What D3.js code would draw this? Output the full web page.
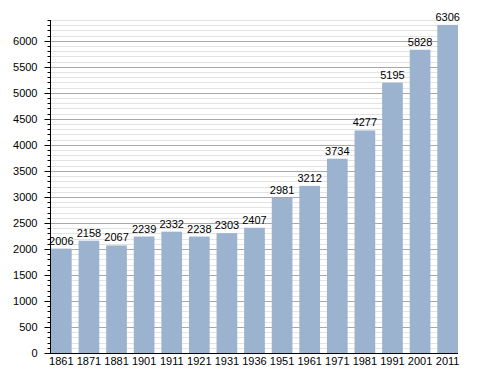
<!DOCTYPE html>
<html>
<head>
<meta charset="utf-8">
<script src="https://cdn.jsdelivr.net/npm/d3@7"></script>
<style>
  body { margin: 0; background: #fff; }
  text { font-family: "Liberation Sans", Arial, sans-serif; font-size: 11px; fill: #000; }
</style>
</head>
<body>
<script>
let years = ["1861", "1871", "1881", "1901", "1911", "1921", "1931", "1936",
             "1951", "1961", "1971", "1981", "1991", "2001", "2011"];
let population = [2006, 2158, 2067, 2239, 2332, 2238, 2303, 2407,
                  2981, 3212, 3734, 4277, 5195, 5828, 6306];
let majorTicks = [0, 500, 1000, 1500, 2000, 2500, 3000, 3500, 4000, 4500, 5000, 5500, 6000];

let width = 488,
    height = 373,
    plotLeft = 50,
    plotRight = 458,
    plotTop = 20,
    plotBottom = 353;

let svg = d3.select("body").append("svg")
    .attr("width", width)
    .attr("height", height);

let x = d3.scaleBand()
    .domain(years)
    .range([plotLeft + 1, plotRight])
    .paddingInner(0.25)
    .paddingOuter(0)
    .align(0);

let y = d3.scaleLinear()
    .domain([0, 6400])
    .range([plotBottom, plotTop]);

let minorTicks = d3.range(100, 6401, 100).filter(function(v) { return v % 500 != 0; });

function yPix(d) { return Math.round(y(d)) + 0.5; }

// grid
svg.append("g").selectAll("line")
    .data(minorTicks)
    .enter().append("line")
    .attr("x1", plotLeft).attr("x2", plotRight)
    .attr("y1", yPix).attr("y2", yPix)
    .attr("stroke", "#e3e3e3");

svg.append("g").selectAll("line")
    .data(majorTicks.slice(1))
    .enter().append("line")
    .attr("x1", plotLeft).attr("x2", plotRight)
    .attr("y1", yPix).attr("y2", yPix)
    .attr("stroke", "#a8a8a8");

// bars
svg.append("g").selectAll("rect")
    .data(population)
    .enter().append("rect")
    .attr("x", function(d, i) { return x(years[i]); })
    .attr("y", function(d) { return y(d); })
    .attr("width", x.bandwidth())
    .attr("height", function(d) { return plotBottom - y(d); })
    .attr("fill", "#9bb3cf");

svg.append("g").selectAll("text")
    .data(population)
    .enter().append("text")
    .attr("x", function(d, i) { return x(years[i]) + x.bandwidth() / 2; })
    .attr("y", function(d) { return y(d) - 4; })
    .attr("text-anchor", "middle")
    .text(function(d) { return d; });

// y axis
let yAxis = svg.append("g")
    .attr("transform", "translate(" + (plotLeft + 0.5) + ",0)");

yAxis.selectAll(".minor")
    .data(minorTicks)
    .enter().append("line")
    .attr("x1", -3).attr("x2", 0)
    .attr("y1", yPix).attr("y2", yPix)
    .attr("stroke", "#000");

yAxis.selectAll(".major")
    .data(majorTicks)
    .enter().append("line")
    .attr("x1", -6).attr("x2", 0)
    .attr("y1", yPix).attr("y2", yPix)
    .attr("stroke", "#000");

yAxis.selectAll("text")
    .data(majorTicks)
    .enter().append("text")
    .attr("x", -13)
    .attr("y", function(d) { return y(d); })
    .attr("dy", "0.35em")
    .attr("text-anchor", "end")
    .text(function(d) { return d; });

yAxis.append("line")
    .attr("y1", plotTop).attr("y2", plotBottom)
    .attr("stroke", "#000");

// x axis
svg.append("line")
    .attr("x1", plotLeft).attr("x2", plotRight)
    .attr("y1", plotBottom + 0.5).attr("y2", plotBottom + 0.5)
    .attr("stroke", "#000");

svg.append("g").selectAll("text")
    .data(years)
    .enter().append("text")
    .attr("x", function(d) { return x(d) + x.bandwidth() / 2; })
    .attr("y", plotBottom + 12)
    .attr("text-anchor", "middle")
    .text(function(d) { return d; });
</script>
</body>
</html>
